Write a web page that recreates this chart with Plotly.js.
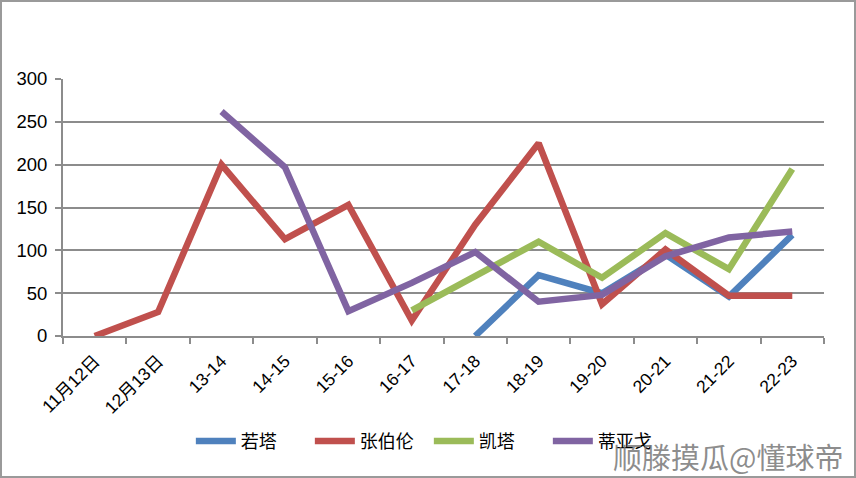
<!DOCTYPE html>
<html>
<head>
<meta charset="utf-8">
<script src="https://cdn.plot.ly/plotly-3.0.1.min.js"></script>
<style>
html,body{margin:0;padding:0;background:#fff;}
#wrap{position:relative;width:856px;height:478px;}
#chart{position:absolute;left:0;top:0;width:856px;height:478px;}
#frame{position:absolute;left:0;top:0;width:856px;height:478px;box-sizing:border-box;border:2px solid #9a9a9a;pointer-events:none;}
</style>
</head>
<body>
<div id="wrap"><div id="chart"></div><div id="frame"></div></div>
<script>
const categories = ["11月12日","12月13日","13-14","14-15","15-16","16-17","17-18","18-19","19-20","20-21","21-22","22-23"];
const seriesNames = ["若塔","张伯伦","凯塔","蒂亚戈"];
const jota      = [null,null,null,null,null,null,0,71,50,95,46,118];
const chamberlain = [0,28,200,113,153,18,130,225,37,101,47,47];
const keita     = [null,null,null,null,null,30,70,110,68,120,78,195];
const thiago    = [null,null,262,197,29,62,98,40,48,93,115,122];
const yTicks = [0,50,100,150,200,250,300];

const colors = ["#4F81BD","#C0504D","#9BBB59","#8064A2"];
const allValues = [jota, chamberlain, keita, thiago];

const traces = allValues.map((vals, i) => ({
  type: "scatter",
  mode: "lines",
  name: seriesNames[i],
  x: categories,
  y: vals,
  connectgaps: false,
  line: {color: colors[i], width: 6.5, shape: "linear"},
  hoverinfo: "x+y+name"
}));

const font = "Liberation Sans, Noto Sans CJK SC, sans-serif";

const layout = {
  width: 856,
  height: 478,
  paper_bgcolor: "#ffffff",
  plot_bgcolor: "#ffffff",
  margin: {l: 63, r: 32, t: 79, b: 142},
  showlegend: true,
  legend: {
    orientation: "h",
    x: 0.168, xanchor: "left",
    y: -0.41, yanchor: "middle",
    font: {family: font, size: 18, color: "#000"},
    itemwidth: 40,
    entrywidth: 64,
    entrywidthmode: "pixels",
    traceorder: "normal",
    bgcolor: "rgba(0,0,0,0)"
  },
  xaxis: {
    type: "category",
    range: [-0.5, 11.5],
    tickangle: -45,
    tickson: "boundaries",
    ticks: "outside",
    ticklen: 6,
    tickwidth: 2,
    tickcolor: "#8c8c8c",
    ticklabelstandoff: 6,
    showline: true,
    linecolor: "#8c8c8c",
    linewidth: 2,
    showgrid: false,
    zeroline: false,
    automargin: false,
    tickfont: {family: font, size: 17.5, color: "#000"},
    fixedrange: true
  },
  yaxis: {
    range: [0, 300],
    tickvals: yTicks,
    ticktext: yTicks.map(String),
    ticks: "outside",
    ticklen: 6,
    tickwidth: 2,
    tickcolor: "#8c8c8c",
    ticklabelstandoff: 4,
    showline: true,
    linecolor: "#8c8c8c",
    linewidth: 2,
    showgrid: true,
    gridcolor: "#8c8c8c",
    gridwidth: 2,
    zeroline: false,
    automargin: false,
    tickfont: {family: font, size: 18.5, color: "#000"},
    fixedrange: true
  },
  annotations: [{
    text: "顺滕摸瓜@懂球帝",
    xref: "paper", yref: "paper",
    x: 1.0276, xanchor: "right",
    y: -0.465, yanchor: "middle",
    showarrow: false,
    font: {family: "Noto Sans CJK SC, sans-serif", size: 29, color: "rgba(120,120,120,0.85)"}
  }]
};

Plotly.newPlot("chart", traces, layout, {displayModeBar: false, staticPlot: true});
</script>
</body>
</html>
